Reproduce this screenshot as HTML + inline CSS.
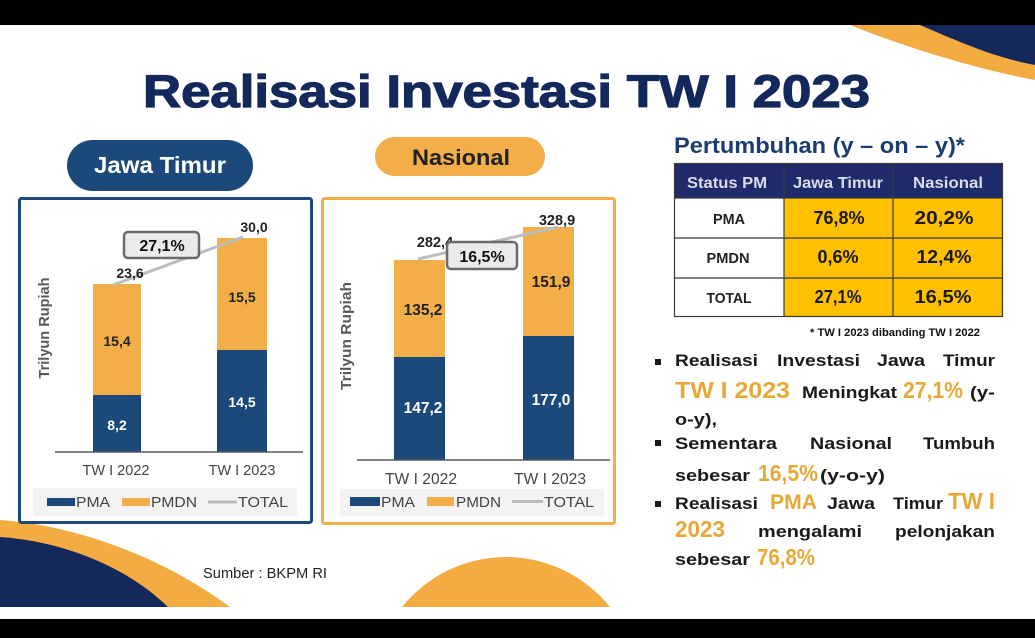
<!DOCTYPE html>
<html><head><meta charset="utf-8"><style>
html,body{margin:0;padding:0;background:#000;width:1035px;height:638px;overflow:hidden;}
svg{display:block;}
text{font-family:"Liberation Sans",Arial,sans-serif;}
</style></head><body>
<svg width="1035" height="638" viewBox="0 0 1035 638" xmlns="http://www.w3.org/2000/svg">
<rect x="0" y="0" width="1035" height="638" fill="#000"/>
<rect x="0" y="25" width="1035" height="594" fill="#fff"/>
<!-- decorations -->
<path d="M850,25 C900,45 970,68 1035,80 V25 Z" fill="#f2ac42"/>
<path d="M920,25 C955,40 995,58 1035,65 V25 Z" fill="#14285a"/>
<path d="M0,520 C60,524 150,548 230,607 L0,607 Z" fill="#f2ac42"/>
<path d="M0,537 C60,541 125,565 168,607 L0,607 Z" fill="#14285a"/>
<path d="M402.1,607 A133,133 0 0 1 609.9,607 Z" fill="#f2ac42"/>

<!-- title -->
<text x="143" y="107" font-size="45" font-weight="bold" fill="#13295b" stroke="#13295b" stroke-width="1.2" textLength="727" lengthAdjust="spacingAndGlyphs">Realisasi Investasi TW I 2023</text>

<!-- pills -->
<rect x="67" y="140" width="186" height="51" rx="25.5" fill="#1b4a7a"/>
<text x="160" y="173" font-size="23" font-weight="bold" fill="#fff" text-anchor="middle" textLength="132" lengthAdjust="spacingAndGlyphs">Jawa Timur</text>
<rect x="375" y="137" width="170" height="39" rx="19.5" fill="#f2ae48"/>
<text x="461" y="165" font-size="22" font-weight="bold" fill="#222" text-anchor="middle" textLength="98" lengthAdjust="spacingAndGlyphs">Nasional</text>

<!-- chart boxes -->
<rect x="19.5" y="198.5" width="292" height="324" fill="#fff" stroke="#1b4a7a" stroke-width="3" rx="2"/>
<rect x="322.5" y="198.5" width="292" height="325" fill="#fff" stroke="#f2ae48" stroke-width="3" rx="2"/>

<!-- Chart 1 -->
<text transform="translate(49,328) rotate(-90)" font-size="14.5" font-weight="bold" fill="#595959" text-anchor="middle" textLength="101" lengthAdjust="spacingAndGlyphs">Trilyun Rupiah</text>
<rect x="93" y="284" width="48" height="111" fill="#f2ae48"/>
<rect x="93" y="395" width="48" height="57" fill="#1b4a7a"/>
<rect x="217" y="238" width="50" height="112" fill="#f2ae48"/>
<rect x="217" y="350" width="50" height="102" fill="#1b4a7a"/>
<line x1="55" y1="452" x2="303" y2="452" stroke="#595959" stroke-width="1.5"/>
<text x="117" y="346" font-size="14" font-weight="bold" fill="#222" text-anchor="middle">15,4</text>
<text x="117" y="430" font-size="14" font-weight="bold" fill="#fff" text-anchor="middle">8,2</text>
<text x="242" y="302" font-size="14" font-weight="bold" fill="#222" text-anchor="middle">15,5</text>
<text x="242" y="407" font-size="14" font-weight="bold" fill="#fff" text-anchor="middle">14,5</text>
<line x1="113" y1="285" x2="243" y2="237" stroke="#bdbdbd" stroke-width="3"/>
<text x="130" y="278" font-size="14" font-weight="bold" fill="#222" text-anchor="middle">23,6</text>
<text x="254" y="232" font-size="14" font-weight="bold" fill="#222" text-anchor="middle">30,0</text>
<rect x="124" y="232" width="75" height="26" rx="4" fill="#ebebeb" stroke="#6b6b6b" stroke-width="2.5"/>
<text x="162" y="251" font-size="16" font-weight="bold" fill="#111" text-anchor="middle">27,1%</text>
<text x="116" y="475" font-size="14.5" fill="#444" text-anchor="middle" textLength="67" lengthAdjust="spacingAndGlyphs">TW I 2022</text>
<text x="242" y="475" font-size="14.5" fill="#444" text-anchor="middle" textLength="67" lengthAdjust="spacingAndGlyphs">TW I 2023</text>
<rect x="33" y="488" width="264" height="28" fill="#f3f3f3"/>
<rect x="47" y="498" width="28" height="8" fill="#1b4a7a"/>
<text x="76" y="507" font-size="15" fill="#444" textLength="34" lengthAdjust="spacingAndGlyphs">PMA</text>
<rect x="122" y="498" width="28" height="8" fill="#f2ae48"/>
<text x="151" y="507" font-size="15" fill="#444" textLength="46" lengthAdjust="spacingAndGlyphs">PMDN</text>
<line x1="208" y1="502" x2="237" y2="502" stroke="#bdbdbd" stroke-width="3"/>
<text x="238" y="507" font-size="15" fill="#444" textLength="50" lengthAdjust="spacingAndGlyphs">TOTAL</text>

<!-- Chart 2 -->
<text transform="translate(351,336) rotate(-90)" font-size="15" font-weight="bold" fill="#595959" text-anchor="middle" textLength="108" lengthAdjust="spacingAndGlyphs">Trilyun Rupiah</text>
<rect x="394" y="260" width="51" height="97" fill="#f2ae48"/>
<rect x="394" y="357" width="51" height="103" fill="#1b4a7a"/>
<rect x="523" y="227" width="51" height="109" fill="#f2ae48"/>
<rect x="523" y="336" width="51" height="124" fill="#1b4a7a"/>
<line x1="357" y1="460" x2="610" y2="460" stroke="#595959" stroke-width="1.5"/>
<text x="423" y="315" font-size="15.5" font-weight="bold" fill="#222" text-anchor="middle">135,2</text>
<text x="423" y="413" font-size="15.5" font-weight="bold" fill="#fff" text-anchor="middle">147,2</text>
<text x="551" y="287" font-size="15.5" font-weight="bold" fill="#222" text-anchor="middle">151,9</text>
<text x="551" y="405" font-size="15.5" font-weight="bold" fill="#fff" text-anchor="middle">177,0</text>
<line x1="418" y1="259" x2="558" y2="227" stroke="#bdbdbd" stroke-width="3"/>
<text x="435" y="247" font-size="14.5" font-weight="bold" fill="#222" text-anchor="middle">282,4</text>
<text x="557" y="225" font-size="14.5" font-weight="bold" fill="#222" text-anchor="middle">328,9</text>
<rect x="447" y="242" width="70" height="27" rx="4" fill="#ebebeb" stroke="#6b6b6b" stroke-width="2.5"/>
<text x="482" y="262" font-size="16" font-weight="bold" fill="#111" text-anchor="middle">16,5%</text>
<text x="421" y="484" font-size="15.5" fill="#444" text-anchor="middle" textLength="72" lengthAdjust="spacingAndGlyphs">TW I 2022</text>
<text x="550" y="484" font-size="15.5" fill="#444" text-anchor="middle" textLength="72" lengthAdjust="spacingAndGlyphs">TW I 2023</text>
<rect x="340" y="489" width="264" height="27" fill="#f3f3f3"/>
<rect x="350" y="497" width="30" height="9" fill="#1b4a7a"/>
<text x="381" y="507" font-size="15" fill="#444" textLength="34" lengthAdjust="spacingAndGlyphs">PMA</text>
<rect x="427" y="497" width="27" height="9" fill="#f2ae48"/>
<text x="456" y="507" font-size="15" fill="#444" textLength="45" lengthAdjust="spacingAndGlyphs">PMDN</text>
<line x1="512" y1="501.5" x2="543" y2="501.5" stroke="#bdbdbd" stroke-width="3"/>
<text x="544" y="507" font-size="15" fill="#444" textLength="50" lengthAdjust="spacingAndGlyphs">TOTAL</text>

<!-- Right: table -->
<text x="674" y="153" font-size="22" font-weight="bold" fill="#1a3c6e" textLength="291" lengthAdjust="spacingAndGlyphs">Pertumbuhan (y – on – y)*</text>
<rect x="674" y="163" width="329" height="35" fill="#1f2b6b"/>
<rect x="674" y="198" width="110" height="119" fill="#fff"/>
<rect x="784" y="198" width="219" height="119" fill="#ffc000"/>
<g stroke="#3a3a3a" stroke-width="1.2" fill="none">
<rect x="674.5" y="163.5" width="328" height="153"/>
<line x1="784" y1="163" x2="784" y2="317"/>
<line x1="893" y1="163" x2="893" y2="317"/>
<line x1="674" y1="198" x2="1003" y2="198"/>
<line x1="674" y1="238" x2="1003" y2="238"/>
<line x1="674" y1="278" x2="1003" y2="278"/>
</g>
<g font-weight="bold" text-anchor="middle">
<text x="727" y="188" font-size="16" fill="#d9dcea" textLength="80" lengthAdjust="spacingAndGlyphs">Status PM</text>
<text x="838" y="188" font-size="16" fill="#d9dcea" textLength="90" lengthAdjust="spacingAndGlyphs">Jawa Timur</text>
<text x="948" y="188" font-size="16" fill="#d9dcea" textLength="70" lengthAdjust="spacingAndGlyphs">Nasional</text>
<text x="729" y="224" font-size="15" fill="#222" textLength="32" lengthAdjust="spacingAndGlyphs">PMA</text>
<text x="839" y="224" font-size="18" fill="#1a1a1a" textLength="51" lengthAdjust="spacingAndGlyphs">76,8%</text>
<text x="944" y="224" font-size="18" fill="#1a1a1a" textLength="59" lengthAdjust="spacingAndGlyphs">20,2%</text>
<text x="728" y="263" font-size="15" fill="#222" textLength="43" lengthAdjust="spacingAndGlyphs">PMDN</text>
<text x="838" y="263" font-size="18" fill="#1a1a1a" textLength="41" lengthAdjust="spacingAndGlyphs">0,6%</text>
<text x="944" y="263" font-size="18" fill="#1a1a1a" textLength="55" lengthAdjust="spacingAndGlyphs">12,4%</text>
<text x="729" y="303" font-size="15" fill="#222" textLength="45" lengthAdjust="spacingAndGlyphs">TOTAL</text>
<text x="838" y="303" font-size="18" fill="#1a1a1a" textLength="47" lengthAdjust="spacingAndGlyphs">27,1%</text>
<text x="943" y="303" font-size="18" fill="#1a1a1a" textLength="57" lengthAdjust="spacingAndGlyphs">16,5%</text>
</g>
<text x="810" y="336" font-size="11" font-weight="bold" fill="#111" textLength="170" lengthAdjust="spacingAndGlyphs">* TW I 2023 dibanding TW I 2022</text>

<!-- bullets -->
<g fill="#1a1a1a">
<rect x="655" y="359" width="6" height="6"/>
<rect x="655" y="440" width="6" height="6"/>
<rect x="655" y="501" width="6" height="6"/>
</g>
<g font-weight="bold" font-size="17" fill="#1a1a1a">
<text x="675" y="366" textLength="83" lengthAdjust="spacingAndGlyphs">Realisasi</text>
<text x="777" y="366" textLength="83" lengthAdjust="spacingAndGlyphs">Investasi</text>
<text x="877" y="366" textLength="48" lengthAdjust="spacingAndGlyphs">Jawa</text>
<text x="943" y="366" textLength="52" lengthAdjust="spacingAndGlyphs">Timur</text>

<text x="675" y="398" font-size="23" fill="#e8a838" textLength="115" lengthAdjust="spacingAndGlyphs">TW I 2023</text>
<text x="802" y="398" textLength="95" lengthAdjust="spacingAndGlyphs">Meningkat</text>
<text x="903" y="398" font-size="23" fill="#e8a838" textLength="60" lengthAdjust="spacingAndGlyphs">27,1%</text>
<text x="970" y="398" textLength="25" lengthAdjust="spacingAndGlyphs">(y-</text>

<text x="675" y="425" textLength="42" lengthAdjust="spacingAndGlyphs">o-y),</text>

<text x="675" y="449" textLength="102" lengthAdjust="spacingAndGlyphs">Sementara</text>
<text x="810" y="449" textLength="82" lengthAdjust="spacingAndGlyphs">Nasional</text>
<text x="923" y="449" textLength="72" lengthAdjust="spacingAndGlyphs">Tumbuh</text>

<text x="675" y="481" textLength="75" lengthAdjust="spacingAndGlyphs">sebesar</text>
<text x="758" y="481" font-size="23" fill="#e8a838" textLength="60" lengthAdjust="spacingAndGlyphs">16,5%</text>
<text x="820" y="481" textLength="65" lengthAdjust="spacingAndGlyphs">(y-o-y)</text>

<text x="675" y="509" textLength="83" lengthAdjust="spacingAndGlyphs">Realisasi</text>
<text x="770" y="509" font-size="21" fill="#e8a838" textLength="47" lengthAdjust="spacingAndGlyphs">PMA</text>
<text x="827" y="509" textLength="48" lengthAdjust="spacingAndGlyphs">Jawa</text>
<text x="893" y="509" textLength="50" lengthAdjust="spacingAndGlyphs">Timur</text>
<text x="948" y="509" font-size="23" fill="#e8a838" textLength="47" lengthAdjust="spacingAndGlyphs">TW I</text>

<text x="675" y="537" font-size="23" fill="#e8a838" textLength="50" lengthAdjust="spacingAndGlyphs">2023</text>
<text x="758" y="537" textLength="104" lengthAdjust="spacingAndGlyphs">mengalami</text>
<text x="895" y="537" textLength="100" lengthAdjust="spacingAndGlyphs">pelonjakan</text>

<text x="675" y="565" textLength="75" lengthAdjust="spacingAndGlyphs">sebesar</text>
<text x="757" y="565" font-size="23" fill="#e8a838" textLength="58" lengthAdjust="spacingAndGlyphs">76,8%</text>
</g>

<text x="203" y="578" font-size="14.5" fill="#222" textLength="124" lengthAdjust="spacingAndGlyphs">Sumber : BKPM RI</text>
</svg>
</body></html>
